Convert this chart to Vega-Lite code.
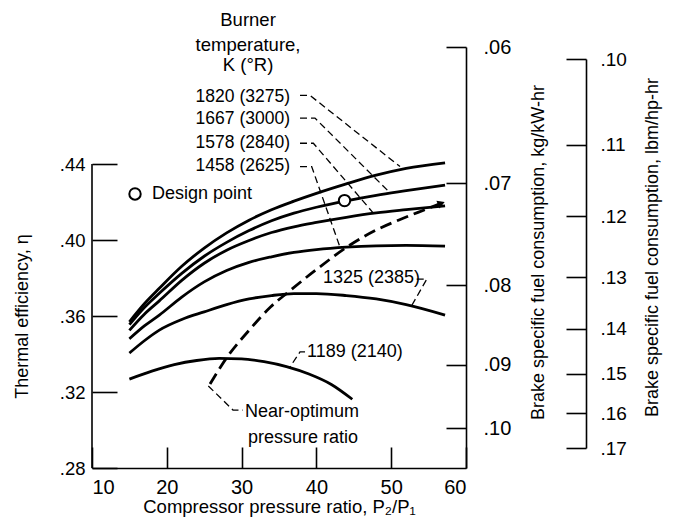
{
  "$schema": "https://vega.github.io/schema/vega-lite/v6.json",
  "width": 374,
  "height": 421,
  "autosize": {"type": "none"},
  "padding": {"left": 92, "top": 47, "right": 208, "bottom": 57},
  "background": "white",
  "config": {
    "view": {"stroke": null},
    "font": "Liberation Sans",
    "axis": {
      "domainColor": "black",
      "tickColor": "black",
      "labelColor": "black",
      "titleColor": "black",
      "domainWidth": 1.6,
      "tickWidth": 1.6,
      "grid": false,
      "labelFont": "Liberation Sans",
      "titleFont": "Liberation Sans",
      "titleFontWeight": "normal",
      "labelFontSize": 19,
      "titleFontSize": 18
    }
  },
  "datasets": {
    "curves": [
      {"temp": "1820", "x": 15, "eta": 0.357}, {"temp": "1820", "x": 17, "eta": 0.3665}, {"temp": "1820", "x": 19, "eta": 0.3746}, {"temp": "1820", "x": 22, "eta": 0.3862}, {"temp": "1820", "x": 25, "eta": 0.3958}, {"temp": "1820", "x": 28, "eta": 0.4038}, {"temp": "1820", "x": 31, "eta": 0.4105}, {"temp": "1820", "x": 34, "eta": 0.416}, {"temp": "1820", "x": 37, "eta": 0.4205}, {"temp": "1820", "x": 40, "eta": 0.4246}, {"temp": "1820", "x": 44, "eta": 0.4296}, {"temp": "1820", "x": 48, "eta": 0.4342}, {"temp": "1820", "x": 52, "eta": 0.4378}, {"temp": "1820", "x": 57.2, "eta": 0.4407},
      {"temp": "1667", "x": 15, "eta": 0.3555}, {"temp": "1667", "x": 17, "eta": 0.3645}, {"temp": "1667", "x": 19, "eta": 0.372}, {"temp": "1667", "x": 22, "eta": 0.3825}, {"temp": "1667", "x": 25, "eta": 0.3915}, {"temp": "1667", "x": 28, "eta": 0.3988}, {"temp": "1667", "x": 31, "eta": 0.405}, {"temp": "1667", "x": 34, "eta": 0.4102}, {"temp": "1667", "x": 37, "eta": 0.4142}, {"temp": "1667", "x": 40, "eta": 0.4173}, {"temp": "1667", "x": 44, "eta": 0.4207}, {"temp": "1667", "x": 48, "eta": 0.4236}, {"temp": "1667", "x": 52, "eta": 0.426}, {"temp": "1667", "x": 57.2, "eta": 0.429},
      {"temp": "1578", "x": 15, "eta": 0.3525}, {"temp": "1578", "x": 17, "eta": 0.361}, {"temp": "1578", "x": 19, "eta": 0.368}, {"temp": "1578", "x": 22, "eta": 0.3788}, {"temp": "1578", "x": 25, "eta": 0.3878}, {"temp": "1578", "x": 28, "eta": 0.3947}, {"temp": "1578", "x": 31, "eta": 0.3998}, {"temp": "1578", "x": 34, "eta": 0.404}, {"temp": "1578", "x": 37, "eta": 0.407}, {"temp": "1578", "x": 40, "eta": 0.4093}, {"temp": "1578", "x": 44, "eta": 0.412}, {"temp": "1578", "x": 48, "eta": 0.4143}, {"temp": "1578", "x": 52, "eta": 0.416}, {"temp": "1578", "x": 57.2, "eta": 0.418},
      {"temp": "1458", "x": 15, "eta": 0.348}, {"temp": "1458", "x": 17, "eta": 0.3548}, {"temp": "1458", "x": 19, "eta": 0.3605}, {"temp": "1458", "x": 22, "eta": 0.37}, {"temp": "1458", "x": 25, "eta": 0.378}, {"temp": "1458", "x": 28, "eta": 0.384}, {"temp": "1458", "x": 31, "eta": 0.3883}, {"temp": "1458", "x": 34, "eta": 0.3912}, {"temp": "1458", "x": 37, "eta": 0.3935}, {"temp": "1458", "x": 40, "eta": 0.395}, {"temp": "1458", "x": 44, "eta": 0.3963}, {"temp": "1458", "x": 48, "eta": 0.397}, {"temp": "1458", "x": 52, "eta": 0.3972}, {"temp": "1458", "x": 57.2, "eta": 0.3968},
      {"temp": "1325", "x": 15, "eta": 0.3405}, {"temp": "1325", "x": 17, "eta": 0.347}, {"temp": "1325", "x": 19, "eta": 0.3526}, {"temp": "1325", "x": 22, "eta": 0.3582}, {"temp": "1325", "x": 25, "eta": 0.3622}, {"temp": "1325", "x": 28, "eta": 0.366}, {"temp": "1325", "x": 31, "eta": 0.369}, {"temp": "1325", "x": 34, "eta": 0.3708}, {"temp": "1325", "x": 37, "eta": 0.3718}, {"temp": "1325", "x": 40, "eta": 0.3718}, {"temp": "1325", "x": 44, "eta": 0.3708}, {"temp": "1325", "x": 48, "eta": 0.369}, {"temp": "1325", "x": 52, "eta": 0.366}, {"temp": "1325", "x": 57.2, "eta": 0.3605},
      {"temp": "1189", "x": 15, "eta": 0.3268}, {"temp": "1189", "x": 18, "eta": 0.331}, {"temp": "1189", "x": 21, "eta": 0.3344}, {"temp": "1189", "x": 24, "eta": 0.3366}, {"temp": "1189", "x": 27, "eta": 0.3377}, {"temp": "1189", "x": 30, "eta": 0.3375}, {"temp": "1189", "x": 33, "eta": 0.336}, {"temp": "1189", "x": 36, "eta": 0.3334}, {"temp": "1189", "x": 39, "eta": 0.3295}, {"temp": "1189", "x": 42, "eta": 0.324}, {"temp": "1189", "x": 44.8, "eta": 0.3162}
    ],
    "optimum": [
      {"x": 25.78, "eta": 0.3242}, {"x": 28.1, "eta": 0.3386}, {"x": 31, "eta": 0.3525}, {"x": 33.9, "eta": 0.3649}, {"x": 36.2, "eta": 0.3725}, {"x": 40, "eta": 0.3845}, {"x": 44.5, "eta": 0.3974}, {"x": 48, "eta": 0.4053}, {"x": 51.6, "eta": 0.4115}, {"x": 54.5, "eta": 0.416}, {"x": 57.2, "eta": 0.4202}
    ],
    "arrowhead": [{"x": 56.7, "eta": 0.4194}],
    "leaders": [
      {"id": "1820", "seq": 1, "x": 37.81, "eta": 0.4762}, {"id": "1820", "seq": 2, "x": 39.14, "eta": 0.4762}, {"id": "1820", "seq": 3, "x": 51.18, "eta": 0.4387},
      {"id": "1667", "seq": 1, "x": 37.81, "eta": 0.4642}, {"id": "1667", "seq": 2, "x": 39.81, "eta": 0.4642}, {"id": "1667", "seq": 3, "x": 49.61, "eta": 0.4258},
      {"id": "1578", "seq": 1, "x": 37.81, "eta": 0.451}, {"id": "1578", "seq": 2, "x": 39.59, "eta": 0.451}, {"id": "1578", "seq": 3, "x": 47.53, "eta": 0.4146},
      {"id": "1458", "seq": 1, "x": 37.81, "eta": 0.4387}, {"id": "1458", "seq": 2, "x": 39.37, "eta": 0.4387}, {"id": "1458", "seq": 3, "x": 43.16, "eta": 0.3962},
      {"id": "1325", "seq": 1, "x": 53.41, "eta": 0.3794}, {"id": "1325", "seq": 2, "x": 54.75, "eta": 0.3794}, {"id": "1325", "seq": 3, "x": 52.74, "eta": 0.3655},
      {"id": "1189", "seq": 1, "x": 38.48, "eta": 0.3411}, {"id": "1189", "seq": 2, "x": 37.81, "eta": 0.3411}, {"id": "1189", "seq": 3, "x": 36.47, "eta": 0.3332},
      {"id": "opt", "seq": 1, "x": 25.55, "eta": 0.3232}, {"id": "opt", "seq": 2, "x": 28.85, "eta": 0.3105}, {"id": "opt", "seq": 3, "x": 30.19, "eta": 0.3105}
    ],
    "tempLabels": [
      {"label": "1820 (3275)", "x": 36.47, "eta": 0.4756},
      {"label": "1667 (3000)", "x": 36.47, "eta": 0.4638},
      {"label": "1578 (2840)", "x": 36.47, "eta": 0.451},
      {"label": "1458 (2625)", "x": 36.47, "eta": 0.4392}
    ],
    "heading": [
      {"label": "Burner", "x": 30.86, "eta": 0.516},
      {"label": "temperature,", "x": 30.86, "eta": 0.5028},
      {"label": "K (°R)", "x": 30.86, "eta": 0.4923}
    ],
    "notes": [
      {"label": "Design point", "x": 18.02, "eta": 0.4243},
      {"label": "1325 (2385)", "x": 40.88, "eta": 0.3801},
      {"label": "1189 (2140)", "x": 38.74, "eta": 0.3411},
      {"label": "Near-optimum", "x": 30.45, "eta": 0.3097},
      {"label": "pressure ratio", "x": 30.86, "eta": 0.2958}
    ],
    "design": [
      {"x": 43.76, "eta": 0.4208},
      {"x": 15.75, "eta": 0.4243}
    ],
    "leftSpine": [{"x": 10, "lo": 0.28, "hi": 0.44}]
  },
  "layer": [
    {
      "layer": [
        {
          "data": {"name": "leftSpine"},
          "mark": {"type": "rule", "color": "black", "strokeWidth": 1.6},
          "encoding": {
            "x": {"field": "x", "type": "quantitative", "scale": {"domain": [10, 60], "nice": false, "zero": false},
              "axis": {"values": [10, 20, 30, 40, 50, 60], "tickSize": -21, "labelPadding": 30, "labelFontSize": 20,
                "title": "Compressor pressure ratio, P₂/P₁", "titleY": 38, "titleBaseline": "middle", "titleFontSize": 18.5}},
            "y": {"field": "lo", "type": "quantitative", "scale": {"domain": [0.28, 0.50167], "nice": false, "zero": false},
              "axis": {"values": [0.28, 0.32, 0.36, 0.40, 0.44], "labelExpr": "'.' + substring(format(datum.value, '.2f'), 2)",
                "tickSize": -25, "labelPadding": 32, "domain": false, "labelFontSize": 18.5,
                "title": "Thermal efficiency, η", "titleX": -70, "titleY": 269, "titleAngle": 270, "titleBaseline": "middle", "titleAlign": "center"}},
            "y2": {"field": "hi"}
          }
        },
        {
          "data": {"name": "curves"},
          "mark": {"type": "line", "color": "black", "strokeWidth": 2.8, "interpolate": "monotone"},
          "encoding": {
            "x": {"field": "x", "type": "quantitative"},
            "y": {"field": "eta", "type": "quantitative"},
            "detail": {"field": "temp"}
          }
        },
        {
          "data": {"name": "optimum"},
          "mark": {"type": "line", "color": "black", "strokeWidth": 2.8, "strokeDash": [12, 6], "interpolate": "monotone"},
          "encoding": {
            "x": {"field": "x", "type": "quantitative"},
            "y": {"field": "eta", "type": "quantitative"}
          }
        },
        {
          "data": {"name": "arrowhead"},
          "mark": {"type": "point", "shape": "triangle-right", "filled": true, "color": "black", "opacity": 1, "size": 70, "angle": -21},
          "encoding": {
            "x": {"field": "x", "type": "quantitative"},
            "y": {"field": "eta", "type": "quantitative"}
          }
        },
        {
          "data": {"name": "leaders"},
          "mark": {"type": "line", "color": "black", "strokeWidth": 1.3, "strokeDash": [7, 4]},
          "encoding": {
            "x": {"field": "x", "type": "quantitative"},
            "y": {"field": "eta", "type": "quantitative"},
            "detail": {"field": "id"},
            "order": {"field": "seq"}
          }
        },
        {
          "data": {"name": "design"},
          "mark": {"type": "point", "shape": "circle", "filled": true, "fill": "white", "stroke": "black", "strokeWidth": 2, "opacity": 1, "size": 130},
          "encoding": {
            "x": {"field": "x", "type": "quantitative"},
            "y": {"field": "eta", "type": "quantitative"}
          }
        },
        {
          "data": {"name": "tempLabels"},
          "mark": {"type": "text", "align": "right", "baseline": "middle", "fontSize": 17.5, "color": "black"},
          "encoding": {
            "x": {"field": "x", "type": "quantitative"},
            "y": {"field": "eta", "type": "quantitative"},
            "text": {"field": "label"}
          }
        },
        {
          "data": {"name": "heading"},
          "mark": {"type": "text", "align": "center", "baseline": "middle", "fontSize": 18.5, "color": "black"},
          "encoding": {
            "x": {"field": "x", "type": "quantitative"},
            "y": {"field": "eta", "type": "quantitative"},
            "text": {"field": "label"}
          }
        },
        {
          "data": {"name": "notes"},
          "mark": {"type": "text", "align": "left", "baseline": "middle", "fontSize": 18, "color": "black"},
          "encoding": {
            "x": {"field": "x", "type": "quantitative"},
            "y": {"field": "eta", "type": "quantitative"},
            "text": {"field": "label"}
          }
        }
      ]
    },
    {
      "data": {"values": [{"kg": 0.06}, {"kg": 0.1}]},
      "mark": {"type": "point", "opacity": 0},
      "encoding": {
        "x": {"datum": 60, "type": "quantitative"},
        "y": {"field": "kg", "type": "quantitative",
          "scale": {"type": "pow", "exponent": -1, "domain": [0.1075, 0.06], "nice": false, "zero": false},
          "axis": {"orient": "right", "values": [0.06, 0.07, 0.08, 0.09, 0.10], "labelExpr": "'.' + substring(format(datum.value, '.2f'), 2)",
            "tickSize": -20, "labelPadding": 37, "labelFontSize": 20,
            "title": "Brake specific fuel consumption, kg/kW-hr", "titleX": 72, "titleY": 205, "titleAngle": 270, "titleBaseline": "middle", "titleAlign": "center"}}
      }
    },
    {
      "data": {"values": [{"lbm": 0.1}, {"lbm": 0.17}]},
      "mark": {"type": "point", "opacity": 0},
      "encoding": {
        "x": {"datum": 60, "type": "quantitative"},
        "y": {"field": "lbm", "type": "quantitative",
          "scale": {"type": "pow", "exponent": -1, "domain": [0.17, 0.1], "range": [401, 12], "nice": false, "zero": false},
          "axis": {"orient": "right", "offset": 120, "values": [0.10, 0.11, 0.12, 0.13, 0.14, 0.15, 0.16, 0.17], "labelExpr": "'.' + substring(format(datum.value, '.2f'), 2)",
            "tickSize": -20, "labelPadding": 34, "labelFontSize": 19,
            "title": "Brake specific fuel consumption, lbm/hp-hr", "titleX": 66, "titleY": 200, "titleAngle": 270, "titleBaseline": "middle", "titleAlign": "center"}}
      }
    }
  ],
  "resolve": {"scale": {"y": "independent"}, "axis": {"y": "independent"}}
}
